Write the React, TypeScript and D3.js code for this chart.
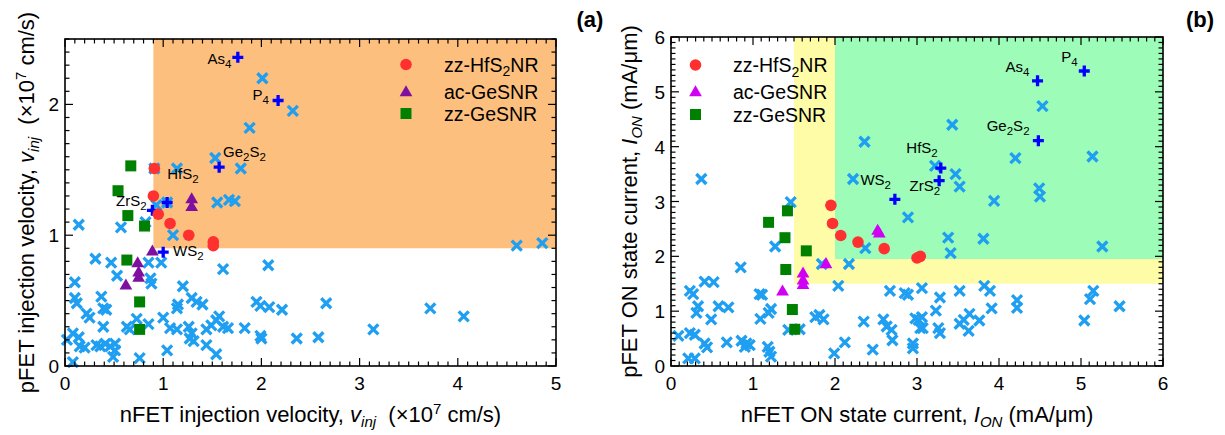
import React from 'react';
import * as d3 from 'd3';

const FONT = '"Liberation Sans", Arial, Helvetica, sans-serif';

type P = [number, number];

// ---------- Panel (a): injection velocity ----------
const aCross: P[] = [
  [2.01, 2.20], [2.32, 1.95], [1.88, 1.82], [1.53, 1.59], [1.79, 1.51], [1.14, 1.51], [0.91, 1.51],
  [0.93, 1.23], [1.04, 1.25], [1.55, 1.25], [1.67, 1.27], [1.73, 1.26], [0.82, 1.10], [0.57, 1.06],
  [0.14, 1.08], [1.10, 1.00],
  [0.31, 0.82], [0.47, 0.79], [0.85, 0.79], [0.98, 0.79], [1.61, 0.74], [2.07, 0.77], [0.53, 0.69],
  [0.87, 0.67], [0.88, 0.63], [0.10, 0.64], [1.20, 0.61], [1.29, 0.52], [1.34, 0.49], [1.40, 0.47],
  [1.15, 0.47], [1.14, 0.44], [0.37, 0.53], [0.10, 0.52], [0.12, 0.48], [0.39, 0.44], [0.42, 0.43],
  [0.22, 0.40], [0.25, 0.37], [0.73, 0.36], [1.00, 0.37], [0.85, 0.32], [0.63, 0.30], [0.66, 0.28],
  [0.39, 0.30], [1.07, 0.29], [1.14, 0.28], [1.26, 0.30], [1.29, 0.25], [1.27, 0.21], [1.31, 0.19],
  [1.44, 0.28], [1.49, 0.31], [1.54, 0.35], [1.57, 0.38], [1.61, 0.30], [1.66, 0.29], [1.83, 0.29],
  [1.95, 0.49], [1.99, 0.46], [2.08, 0.45], [2.21, 0.43], [1.99, 0.23], [2.00, 0.21], [2.36, 0.21],
  [1.44, 0.16], [1.54, 0.09], [1.04, 0.12], [0.76, 0.06], [0.49, 0.07], [0.08, 0.03], [0.02, 0.20],
  [0.08, 0.25], [0.14, 0.22], [0.15, 0.15], [0.20, 0.14], [0.32, 0.16], [0.36, 0.15], [0.41, 0.17],
  [0.46, 0.15], [0.51, 0.17], [0.51, 0.12], [4.60, 0.92], [4.86, 0.94], [2.66, 0.48], [2.58, 0.22],
  [3.14, 0.28], [3.72, 0.44], [4.06, 0.38],
];
const aPlus: P[] = [[1.76, 2.36], [2.17, 2.03], [1.57, 1.52], [1.04, 1.25], [0.89, 1.19], [1.00, 0.87]];
const aHfS2NR: P[] = [[0.91, 1.51], [0.90, 1.30], [0.95, 1.16], [1.07, 1.09], [1.26, 1.00], [1.51, 0.95], [1.51, 0.92]];
const aAcGeS: P[] = [[1.29, 1.28], [1.29, 1.22], [0.89, 0.88], [0.74, 0.79], [0.75, 0.72], [0.75, 0.68], [0.62, 0.62]];
const aZzGeS: P[] = [[0.67, 1.53], [0.54, 1.34], [0.64, 1.15], [0.81, 1.07], [0.63, 0.81], [0.76, 0.49], [0.76, 0.28]];
const aXTicks = [0, 1, 2, 3, 4, 5];
const aYTicks = [0, 1, 2];

// ---------- Panel (b): ON state current ----------
const bCross: P[] = [
  [0.37, 3.41], [2.36, 4.09], [2.22, 3.41], [2.89, 2.71], [1.46, 2.99], [1.27, 2.18], [2.37, 2.15],
  [0.85, 1.80], [1.84, 1.86], [2.17, 1.86], [2.04, 1.46], [2.67, 1.37], [2.85, 1.33], [2.89, 1.30],
  [3.06, 1.42], [0.41, 1.54], [0.52, 1.53], [0.23, 1.37], [0.27, 1.31], [0.33, 1.09], [0.31, 0.97],
  [0.58, 1.09], [0.70, 1.07], [0.49, 0.85], [1.08, 1.31], [1.11, 1.30], [1.22, 1.04], [1.19, 0.97],
  [1.09, 0.86], [0.09, 0.55], [0.23, 0.60], [0.29, 0.57], [0.41, 0.41], [0.44, 0.34], [0.21, 0.14],
  [0.29, 0.14], [0.68, 0.43], [0.86, 0.46], [0.92, 0.41], [0.96, 0.38], [0.90, 0.35], [1.18, 0.35],
  [1.20, 0.26], [1.22, 0.17], [1.43, 0.66], [1.57, 0.67], [1.76, 0.89], [1.81, 0.93], [1.86, 0.85],
  [1.99, 0.23], [2.12, 0.43], [2.35, 0.81], [2.46, 0.30], [2.59, 0.85], [2.63, 0.72], [2.69, 0.66],
  [2.70, 0.47], [2.95, 0.41], [2.95, 0.32], [2.98, 0.87], [3.02, 0.84], [3.04, 0.69], [4.53, 4.74],
  [3.43, 4.40], [4.20, 3.79], [5.14, 3.82], [3.22, 3.65], [3.47, 3.50], [3.52, 3.27], [3.94, 3.01],
  [4.49, 3.24], [4.50, 3.09], [3.38, 2.34], [3.81, 2.32], [5.26, 2.18], [3.41, 2.06], [3.28, 1.25],
  [3.52, 1.37], [3.82, 1.46], [3.89, 1.37], [3.23, 1.01], [3.91, 1.05], [4.22, 1.20], [4.22, 1.06],
  [3.06, 0.89], [3.07, 0.69], [3.26, 0.69], [3.28, 0.60], [3.52, 0.77], [3.57, 0.84], [3.64, 0.95],
  [3.63, 0.64], [3.76, 0.83], [5.15, 1.37], [5.11, 1.22], [5.47, 1.09], [5.04, 0.83],
];
const bPlus: P[] = [[4.47, 5.20], [5.04, 5.38], [4.48, 4.11], [3.29, 3.61], [3.27, 3.38], [2.73, 3.04]];
const bHfS2NR: P[] = [[1.95, 2.93], [1.97, 2.60], [2.07, 2.38], [2.28, 2.26], [2.60, 2.14], [3.00, 1.97], [3.04, 2.00]];
const bAcGeS: P[] = [[2.52, 2.48], [2.54, 2.43], [1.89, 1.87], [1.61, 1.70], [1.61, 1.57], [1.61, 1.49], [1.36, 1.37]];
const bZzGeS: P[] = [[1.42, 2.83], [1.19, 2.62], [1.39, 2.34], [1.65, 2.10], [1.40, 1.76], [1.48, 1.03], [1.51, 0.67]];
const bXTicks = [0, 1, 2, 3, 4, 5, 6];
const bYTicks = [0, 1, 2, 3, 4, 5, 6];

const legendNames: [string, string, string][] = [
  ['zz-HfS', '2', 'NR'],
  ['ac-GeSNR', '', ''],
  ['zz-GeSNR', '', ''],
];

type Lbl = { parts: [string, boolean][]; x: number; y: number };
const aLabels: Lbl[] = [
  { parts: [['As', false], ['4', true]], x: 1.45, y: 2.31 },
  { parts: [['P', false], ['4', true]], x: 1.91, y: 2.03 },
  { parts: [['Ge', false], ['2', true], ['S', false], ['2', true]], x: 1.61, y: 1.60 },
  { parts: [['HfS', false], ['2', true]], x: 1.04, y: 1.43 },
  { parts: [['ZrS', false], ['2', true]], x: 0.52, y: 1.22 },
  { parts: [['WS', false], ['2', true]], x: 1.10, y: 0.84 },
];
const bLabels: Lbl[] = [
  { parts: [['As', false], ['4', true]], x: 4.08, y: 5.37 },
  { parts: [['P', false], ['4', true]], x: 4.76, y: 5.55 },
  { parts: [['Ge', false], ['2', true], ['S', false], ['2', true]], x: 3.85, y: 4.28 },
  { parts: [['HfS', false], ['2', true]], x: 2.87, y: 3.88 },
  { parts: [['ZrS', false], ['2', true]], x: 2.91, y: 3.20 },
  { parts: [['WS', false], ['2', true]], x: 2.31, y: 3.31 },
];

const C_CROSS = '#1f9ff2';
const C_PLUS = '#0000ff';
const C_RED = '#ff3030';
const C_GREEN = '#008000';

function Label({ l, xs, ys }: { l: Lbl; xs: any; ys: any }) {
  let prevSub = false;
  return (
    <text x={xs(l.x)} y={ys(l.y)} fontSize={15} fontFamily={FONT} fill="#000">
      {l.parts.map(([s, sub], i) => {
        let dy = 0;
        if (sub && !prevSub) dy = 4;
        if (!sub && prevSub) dy = -4;
        prevSub = sub;
        return (
          <tspan key={i} dy={dy} fontSize={sub ? 11.5 : 15}>{s}</tspan>
        );
      })}
    </text>
  );
}

function Cross({ x, y }: { x: number; y: number }) {
  const s = 5;
  return (
    <path d={`M${x - s},${y - s}L${x + s},${y + s}M${x - s},${y + s}L${x + s},${y - s}`} stroke={C_CROSS} strokeWidth={3.3} fill="none" />
  );
}
function Plus({ x, y }: { x: number; y: number }) {
  const s = 5.5;
  return (
    <path d={`M${x - s},${y}L${x + s},${y}M${x},${y - s}L${x},${y + s}`} stroke={C_PLUS} strokeWidth={3.3} fill="none" />
  );
}
const triPath = d3.symbol().type(d3.symbolTriangle).size(70)() as string;
function Tri({ x, y, c }: { x: number; y: number; c: string }) {
  return <path d={triPath} transform={`translate(${x},${y + 1})`} fill={c} />;
}
function Sq({ x, y }: { x: number; y: number }) {
  return <rect x={x - 5.5} y={y - 5.5} width={11} height={11} fill={C_GREEN} />;
}
function Circ({ x, y }: { x: number; y: number }) {
  return <circle cx={x} cy={y} r={5.8} fill={C_RED} />;
}

type PanelCfg = {
  left: number; right: number; top: number; bottom: number;
  xMax: number; yMax: number;
  xTicks: number[]; yTicks: number[];
  regions: { x0: number; y0: number; color: string }[];
  cross: P[]; plus: P[]; hf: P[]; ac: P[]; zz: P[];
  triColor: string;
  labels: Lbl[];
  legendX: number; legendTextX: number; legendY: number[];
  xTitle: React.ReactNode; yTitle: React.ReactNode; yTitleX: number;
  tag: string; tagX: number;
};

function Panel({ cfg }: { cfg: PanelCfg }) {
  const xs = d3.scaleLinear().domain([0, cfg.xMax]).range([cfg.left, cfg.right]);
  const ys = d3.scaleLinear().domain([0, cfg.yMax]).range([cfg.bottom, cfg.top]);
  const xMinor = d3.range(0, cfg.xMax + 0.001, 0.1);
  const yMinor = d3.range(0, cfg.yMax + 0.001, 0.1);
  const isMajor = (v: number) => Math.abs(v - Math.round(v)) < 1e-6;
  const tk: React.ReactNode[] = [];
  xMinor.forEach((v, i) => {
    const L = isMajor(v) ? 8 : 4.5;
    const X = xs(v);
    tk.push(<line key={'xb' + i} x1={X} x2={X} y1={cfg.bottom} y2={cfg.bottom - L} />);
    tk.push(<line key={'xt' + i} x1={X} x2={X} y1={cfg.top} y2={cfg.top + L} />);
  });
  yMinor.forEach((v, i) => {
    const L = isMajor(v) ? 8 : 4.5;
    const Y = ys(v);
    tk.push(<line key={'yl' + i} x1={cfg.left} x2={cfg.left + L} y1={Y} y2={Y} />);
    tk.push(<line key={'yr' + i} x1={cfg.right} x2={cfg.right - L} y1={Y} y2={Y} />);
  });
  return (
    <g fontFamily={FONT}>
      {cfg.regions.map((r, i) => (
        <rect key={i} x={xs(r.x0)} y={cfg.top} width={cfg.right - xs(r.x0)} height={ys(r.y0) - cfg.top} fill={r.color} />
      ))}
      {cfg.cross.map((p, i) => <Cross key={'c' + i} x={xs(p[0])} y={ys(p[1])} />)}
      {cfg.plus.map((p, i) => <Plus key={'p' + i} x={xs(p[0])} y={ys(p[1])} />)}
      {cfg.zz.map((p, i) => <Sq key={'s' + i} x={xs(p[0])} y={ys(p[1])} />)}
      {cfg.ac.map((p, i) => <Tri key={'t' + i} x={xs(p[0])} y={ys(p[1])} c={cfg.triColor} />)}
      {cfg.hf.map((p, i) => <Circ key={'r' + i} x={xs(p[0])} y={ys(p[1])} />)}
      {cfg.labels.map((l, i) => <Label key={'l' + i} l={l} xs={xs} ys={ys} />)}
      {/* legend */}
      <Circ x={cfg.legendX} y={cfg.legendY[0]} />
      <Tri x={cfg.legendX} y={cfg.legendY[1]} c={cfg.triColor} />
      <Sq x={cfg.legendX} y={cfg.legendY[2]} />
      {legendNames.map((n, i) => (
        <text key={'ln' + i} x={cfg.legendTextX} y={cfg.legendY[i] + 7} fontSize={19.5}>
          {n[0]}
          {n[1] && <tspan dy={4.5} fontSize={14}>{n[1]}</tspan>}
          {n[2] && <tspan dy={-4.5}>{n[2]}</tspan>}
        </text>
      ))}
      <g stroke="#000" strokeWidth={1.2}>{tk}</g>
      <rect x={cfg.left} y={cfg.top} width={cfg.right - cfg.left} height={cfg.bottom - cfg.top} fill="none" stroke="#000" strokeWidth={1.6} />
      {cfg.xTicks.map((v) => (
        <text key={'xl' + v} x={xs(v)} y={cfg.bottom + 24} fontSize={19} textAnchor="middle">{v}</text>
      ))}
      {cfg.yTicks.map((v) => (
        <text key={'yl' + v} x={cfg.left - 6} y={ys(v) + 7} fontSize={19} textAnchor="end">{v}</text>
      ))}
      <text x={(cfg.left + cfg.right) / 2} y={cfg.bottom + 56} fontSize={22} textAnchor="middle">{cfg.xTitle}</text>
      <text transform={`translate(${cfg.yTitleX},${(cfg.top + cfg.bottom) / 2}) rotate(-90)`} fontSize={22} textAnchor="middle">{cfg.yTitle}</text>
      <text x={cfg.tagX} y={27} fontSize={22} fontWeight="bold" textAnchor="middle">{cfg.tag}</text>
    </g>
  );
}

const panelA: PanelCfg = {
  left: 65, right: 556, top: 39, bottom: 366,
  xMax: 5, yMax: 2.5,
  xTicks: aXTicks, yTicks: aYTicks,
  regions: [{ x0: 0.9, y0: 0.9, color: '#fdbf7e' }],
  cross: aCross, plus: aPlus, hf: aHfS2NR, ac: aAcGeS, zz: aZzGeS,
  triColor: '#7f0f9f',
  labels: aLabels,
  legendX: 406, legendTextX: 444, legendY: [64.5, 91.5, 113.5],
  xTitle: (
    <>
      nFET injection velocity, <tspan fontStyle="italic">v</tspan>
      <tspan fontStyle="italic" dy={5} fontSize={15}>inj</tspan>
      <tspan dy={-5}>{'\u00a0\u00a0(\u00d710'}</tspan>
      <tspan dy={-8} fontSize={15}>7</tspan>
      <tspan dy={8}>{' cm/s)'}</tspan>
    </>
  ),
  yTitle: (
    <>
      pFET injection velocity, <tspan fontStyle="italic">v</tspan>
      <tspan fontStyle="italic" dy={5} fontSize={15}>inj</tspan>
      <tspan dy={-5}>{'\u00a0\u00a0(\u00d710'}</tspan>
      <tspan dy={-8} fontSize={15}>7</tspan>
      <tspan dy={8}>{' cm/s)'}</tspan>
    </>
  ),
  yTitleX: 34,
  tag: '(a)', tagX: 590,
};

const panelB: PanelCfg = {
  left: 671, right: 1163, top: 37, bottom: 366,
  xMax: 6, yMax: 6,
  xTicks: bXTicks, yTicks: bYTicks,
  regions: [
    { x0: 1.5, y0: 1.5, color: '#fffca8' },
    { x0: 2.0, y0: 1.95, color: '#9cfcb8' },
  ],
  cross: bCross, plus: bPlus, hf: bHfS2NR, ac: bAcGeS, zz: bZzGeS,
  triColor: '#d000f5',
  labels: bLabels,
  legendX: 695.5, legendTextX: 733, legendY: [65, 91.5, 114.5],
  xTitle: (
    <>
      nFET ON state current, <tspan fontStyle="italic">I</tspan>
      <tspan fontStyle="italic" dy={5} fontSize={15}>ON</tspan>
      <tspan dy={-5}>{' (mA/\u03bcm)'}</tspan>
    </>
  ),
  yTitle: (
    <>
      pFET ON state current, <tspan fontStyle="italic">I</tspan>
      <tspan fontStyle="italic" dy={5} fontSize={15}>ON</tspan>
      <tspan dy={-5}>{' (mA/\u03bcm)'}</tspan>
    </>
  ),
  yTitleX: 637,
  tag: '(b)', tagX: 1200,
};

export default function App() {
  return (
    <div style={{ position: 'absolute', left: 0, top: 0, width: 1225, height: 435, background: '#fff' }}>
      <svg width={1225} height={435} style={{ display: 'block' }}>
        <rect width={1225} height={435} fill="#fff" />
        <Panel cfg={panelA} />
        <Panel cfg={panelB} />
      </svg>
    </div>
  );
}
